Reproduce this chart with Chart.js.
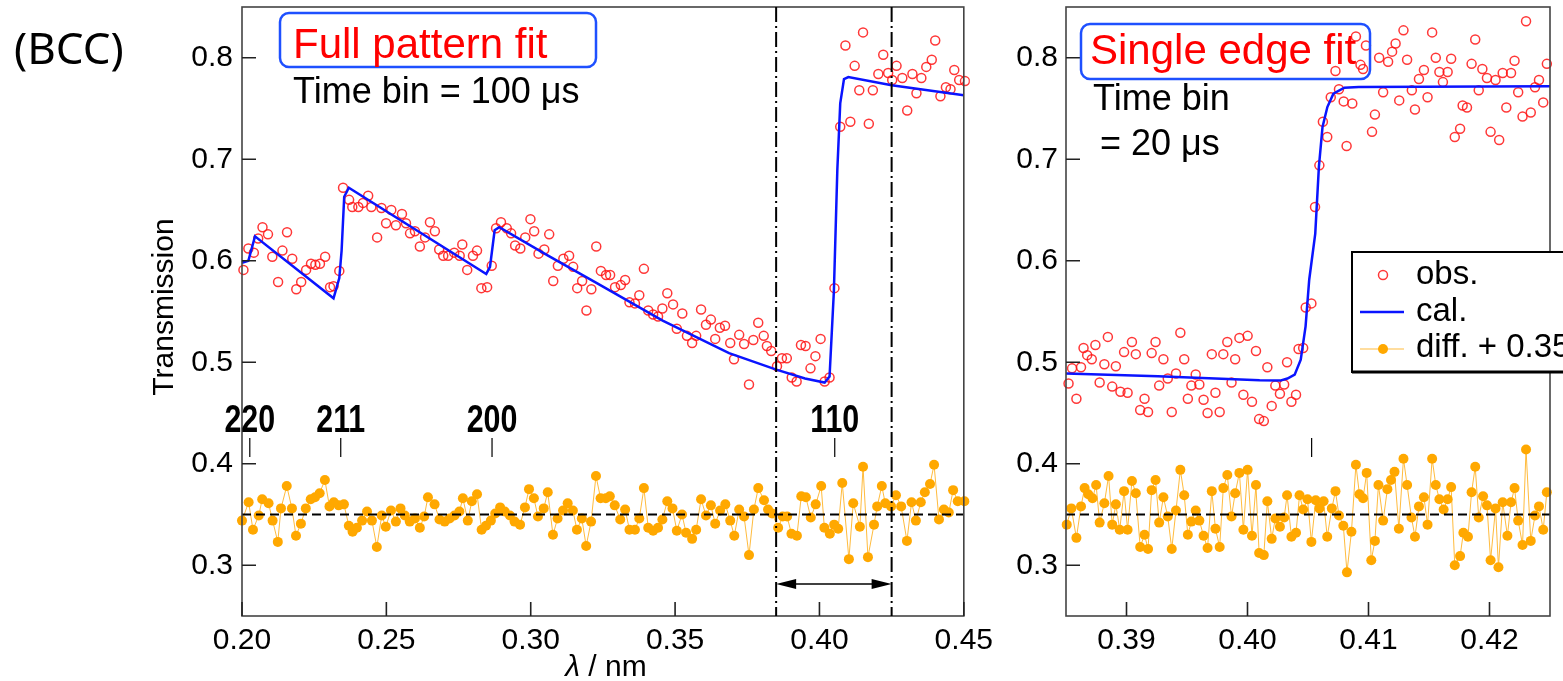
<!DOCTYPE html>
<html>
<head>
<meta charset="utf-8">
<title>BCC transmission spectrum fit</title>
<script src="https://cdn.jsdelivr.net/npm/chart.js@4.4.1/dist/chart.umd.min.js"></script>
<style>
  html, body { margin: 0; padding: 0; background: #fff; }
  #wrap { position: relative; width: 1563px; height: 681px; overflow: hidden; }
  canvas { position: absolute; top: 0; }
  #fullChart { left: 0; }
  #edgeChart { left: 1000px; }
</style>
</head>
<body>
<div id="wrap">
  <canvas id="fullChart" width="1000" height="681"></canvas>
  <canvas id="edgeChart" width="563" height="681"></canvas>
</div>
<script>
// ---- Full pattern fit, time bin 100 us ----
const fullObsLambda = [
  0.2005, 0.2022, 0.2041, 0.2056, 0.2071, 0.2090, 0.2105, 0.2125, 0.2140, 0.2156,
  0.2174, 0.2188, 0.2205, 0.2222, 0.2239, 0.2254, 0.2270, 0.2288, 0.2305, 0.2317,
  0.2337, 0.2350, 0.2371, 0.2382, 0.2403, 0.2419, 0.2437, 0.2448, 0.2468, 0.2483,
  0.2499, 0.2517, 0.2533, 0.2554, 0.2568, 0.2582, 0.2599, 0.2616, 0.2634, 0.2651,
  0.2668, 0.2683, 0.2697, 0.2714, 0.2735, 0.2754, 0.2763, 0.2780, 0.2800, 0.2814,
  0.2829, 0.2849, 0.2865, 0.2880, 0.2897, 0.2917, 0.2932, 0.2946, 0.2964, 0.2981,
  0.2999, 0.3012, 0.3027, 0.3047, 0.3064, 0.3078, 0.3094, 0.3113, 0.3133, 0.3147,
  0.3161, 0.3178, 0.3193, 0.3210, 0.3227, 0.3243, 0.3261, 0.3275, 0.3292, 0.3312,
  0.3327, 0.3342, 0.3361, 0.3376, 0.3392, 0.3407, 0.3424, 0.3441, 0.3456, 0.3473,
  0.3493, 0.3506, 0.3525, 0.3541, 0.3559, 0.3573, 0.3590, 0.3607, 0.3624, 0.3639,
  0.3655, 0.3673, 0.3691, 0.3704, 0.3722, 0.3739, 0.3756, 0.3771, 0.3788, 0.3807,
  0.3818, 0.3833, 0.3853, 0.3870, 0.3887, 0.3904, 0.3921, 0.3936, 0.3952, 0.3969,
  0.3986, 0.4004, 0.4018, 0.4035, 0.4052, 0.4072, 0.4090, 0.4107, 0.4122, 0.4138,
  0.4151, 0.4171, 0.4185, 0.4204, 0.4221, 0.4238, 0.4252, 0.4267, 0.4287, 0.4304,
  0.4322, 0.4336, 0.4353, 0.4370, 0.4389, 0.4401, 0.4419, 0.4438, 0.4454, 0.4467,
  0.4484, 0.4504
];
const fullObsT = [
  0.591, 0.612, 0.608, 0.622, 0.633, 0.626, 0.604, 0.579, 0.610, 0.628,
  0.602, 0.572, 0.579, 0.591, 0.597, 0.596, 0.597, 0.604, 0.574, 0.575,
  0.590, 0.672, 0.660, 0.653, 0.653, 0.657, 0.664, 0.653, 0.623, 0.652,
  0.637, 0.650, 0.635, 0.646, 0.637, 0.627, 0.629, 0.614, 0.623, 0.638,
  0.629, 0.611, 0.605, 0.605, 0.608, 0.605, 0.616, 0.591, 0.605, 0.610,
  0.573, 0.574, 0.595, 0.632, 0.638, 0.632, 0.627, 0.615, 0.612, 0.623,
  0.641, 0.629, 0.607, 0.611, 0.626, 0.580, 0.595, 0.602, 0.605, 0.594,
  0.573, 0.580, 0.551, 0.572, 0.614, 0.590, 0.586, 0.586, 0.574, 0.576,
  0.581, 0.559, 0.558, 0.566, 0.592, 0.551, 0.547, 0.545, 0.553, 0.568,
  0.557, 0.533, 0.548, 0.526, 0.519, 0.526, 0.552, 0.537, 0.542, 0.523,
  0.534, 0.536, 0.519, 0.503, 0.527, 0.518, 0.478, 0.522, 0.539, 0.526,
  0.516, 0.511, 0.496, 0.504, 0.504, 0.485, 0.481, 0.517, 0.516, 0.494,
  0.506, 0.523, 0.481, 0.485, 0.573, 0.732, 0.812, 0.737, 0.792, 0.768,
  0.825, 0.735, 0.768, 0.784, 0.803, 0.785, 0.778, 0.792, 0.780, 0.748,
  0.784, 0.765, 0.780, 0.791, 0.798, 0.817, 0.762, 0.771, 0.769, 0.788,
  0.778, 0.777
];
const fullCalLambda = [
  0.2000, 0.2022, 0.2045, 0.2317, 0.2337, 0.2345, 0.2354, 0.2370, 0.2846, 0.2859,
  0.2875, 0.2891, 0.3060, 0.3229, 0.3457, 0.3687, 0.3848, 0.3950, 0.4018, 0.4035,
  0.4050, 0.4062, 0.4072, 0.4085, 0.4100, 0.4250, 0.4500
];
const fullCalT = [
  0.598, 0.600, 0.624, 0.563, 0.583, 0.610, 0.663, 0.672, 0.587, 0.594,
  0.630, 0.633, 0.605, 0.578, 0.541, 0.509, 0.493, 0.484, 0.480, 0.486,
  0.570, 0.690, 0.755, 0.779, 0.781, 0.773, 0.763
];
const fullDiffLambda = [
  0.2000, 0.2023, 0.2038, 0.2058, 0.2070, 0.2092, 0.2106, 0.2124, 0.2135, 0.2155,
  0.2173, 0.2187, 0.2204, 0.2221, 0.2238, 0.2253, 0.2269, 0.2287, 0.2303, 0.2318,
  0.2335, 0.2353, 0.2370, 0.2383, 0.2398, 0.2416, 0.2433, 0.2450, 0.2467, 0.2484,
  0.2498, 0.2516, 0.2533, 0.2549, 0.2564, 0.2581, 0.2599, 0.2616, 0.2631, 0.2644,
  0.2667, 0.2684, 0.2702, 0.2719, 0.2736, 0.2753, 0.2765, 0.2782, 0.2796, 0.2814,
  0.2830, 0.2845, 0.2862, 0.2877, 0.2894, 0.2910, 0.2928, 0.2944, 0.2963, 0.2980,
  0.2994, 0.3011, 0.3025, 0.3045, 0.3059, 0.3077, 0.3093, 0.3112, 0.3128, 0.3146,
  0.3160, 0.3177, 0.3192, 0.3209, 0.3226, 0.3242, 0.3260, 0.3274, 0.3291, 0.3310,
  0.3327, 0.3342, 0.3361, 0.3376, 0.3392, 0.3407, 0.3424, 0.3441, 0.3456, 0.3473,
  0.3491, 0.3506, 0.3524, 0.3538, 0.3559, 0.3573, 0.3590, 0.3607, 0.3624, 0.3639,
  0.3656, 0.3674, 0.3691, 0.3705, 0.3722, 0.3739, 0.3756, 0.3773, 0.3788, 0.3808,
  0.3822, 0.3836, 0.3857, 0.3873, 0.3888, 0.3903, 0.3922, 0.3937, 0.3953, 0.3970,
  0.3987, 0.4006, 0.4017, 0.4036, 0.4051, 0.4065, 0.4079, 0.4102, 0.4117, 0.4140,
  0.4151, 0.4168, 0.4189, 0.4200, 0.4216, 0.4228, 0.4248, 0.4265, 0.4283, 0.4303,
  0.4319, 0.4334, 0.4351, 0.4365, 0.4383, 0.4397, 0.4414, 0.4431, 0.4448, 0.4463,
  0.4479, 0.4502
];
const fullDiffT = [
  0.344, 0.362, 0.335, 0.349, 0.365, 0.361, 0.344, 0.323, 0.356, 0.378,
  0.356, 0.329, 0.341, 0.356, 0.365, 0.367, 0.371, 0.384, 0.358, 0.362,
  0.359, 0.360, 0.339, 0.333, 0.337, 0.344, 0.353, 0.344, 0.318, 0.349,
  0.338, 0.354, 0.343, 0.356, 0.349, 0.343, 0.346, 0.337, 0.348, 0.367,
  0.360, 0.345, 0.343, 0.346, 0.349, 0.353, 0.366, 0.344, 0.363, 0.370,
  0.335, 0.339, 0.344, 0.351, 0.357, 0.353, 0.349, 0.343, 0.340, 0.357,
  0.375, 0.366, 0.348, 0.356, 0.372, 0.330, 0.346, 0.354, 0.361, 0.354,
  0.335, 0.346, 0.319, 0.343, 0.388, 0.366, 0.366, 0.368, 0.359, 0.345,
  0.355, 0.335, 0.335, 0.346, 0.376, 0.337, 0.334, 0.337, 0.345, 0.363,
  0.356, 0.334, 0.350, 0.332, 0.326, 0.335, 0.365, 0.349, 0.359, 0.341,
  0.354, 0.360, 0.344, 0.329, 0.355, 0.348, 0.310, 0.355, 0.376, 0.364,
  0.355, 0.351, 0.337, 0.348, 0.348, 0.331, 0.329, 0.368, 0.367, 0.347,
  0.360, 0.378, 0.337, 0.331, 0.340, 0.336, 0.381, 0.306, 0.361, 0.338,
  0.397, 0.308, 0.340, 0.358, 0.378, 0.361, 0.358, 0.369, 0.358, 0.324,
  0.362, 0.344, 0.362, 0.372, 0.380, 0.399, 0.345, 0.355, 0.352, 0.374,
  0.363, 0.363
];

// ---- Single 110 edge fit, time bin 20 us ----
const edgeObsLambda = [
  0.38521, 0.38550, 0.38586, 0.38624, 0.38645, 0.38675, 0.38713, 0.38743, 0.38778, 0.38817,
  0.38846, 0.38882, 0.38912, 0.38950, 0.38980, 0.39009, 0.39045, 0.39077, 0.39113, 0.39149,
  0.39178, 0.39208, 0.39240, 0.39270, 0.39305, 0.39341, 0.39374, 0.39409, 0.39445, 0.39477,
  0.39507, 0.39536, 0.39572, 0.39602, 0.39637, 0.39670, 0.39705, 0.39735, 0.39770, 0.39800,
  0.39833, 0.39868, 0.39898, 0.39933, 0.39966, 0.40001, 0.40037, 0.40070, 0.40096, 0.40135,
  0.40164, 0.40200, 0.40230, 0.40268, 0.40303, 0.40327, 0.40363, 0.40401, 0.40422, 0.40460,
  0.40481, 0.40528, 0.40558, 0.40594, 0.40623, 0.40659, 0.40688, 0.40727, 0.40756, 0.40795,
  0.40819, 0.40866, 0.40896, 0.40934, 0.40955, 0.40979, 0.41029, 0.41053, 0.41088, 0.41121,
  0.41162, 0.41195, 0.41224, 0.41254, 0.41289, 0.41319, 0.41358, 0.41384, 0.41417, 0.41458,
  0.41488, 0.41526, 0.41556, 0.41586, 0.41615, 0.41654, 0.41683, 0.41713, 0.41757, 0.41778,
  0.41814, 0.41852, 0.41882, 0.41911, 0.41941, 0.41979, 0.42009, 0.42050, 0.42080, 0.42109,
  0.42139, 0.42178, 0.42207, 0.42237, 0.42273, 0.42302, 0.42341, 0.42376, 0.42409, 0.42444,
  0.42474
];
const edgeObsT = [
  0.479, 0.494, 0.464, 0.495, 0.514, 0.507, 0.503, 0.517, 0.480, 0.498,
  0.525, 0.476, 0.496, 0.471, 0.510, 0.470, 0.520, 0.508, 0.453, 0.464,
  0.451, 0.509, 0.520, 0.477, 0.503, 0.484, 0.451, 0.489, 0.529, 0.503,
  0.464, 0.477, 0.488, 0.478, 0.463, 0.450, 0.508, 0.470, 0.451, 0.508,
  0.520, 0.480, 0.503, 0.524, 0.468, 0.526, 0.461, 0.511, 0.444, 0.442,
  0.495, 0.457, 0.477, 0.469, 0.478, 0.500, 0.461, 0.468, 0.513, 0.514,
  0.554, 0.558, 0.653, 0.694, 0.737, 0.722, 0.761, 0.787, 0.769, 0.757,
  0.713, 0.755, 0.821, 0.793, 0.789, 0.812, 0.727, 0.744, 0.800, 0.766,
  0.796, 0.806, 0.814, 0.758, 0.827, 0.798, 0.768, 0.749, 0.779, 0.788,
  0.761, 0.825, 0.800, 0.786, 0.776, 0.786, 0.799, 0.722, 0.730, 0.753,
  0.751, 0.794, 0.818, 0.768, 0.789, 0.780, 0.727, 0.778, 0.719, 0.785,
  0.751, 0.785, 0.797, 0.766, 0.742, 0.836, 0.746, 0.771, 0.778, 0.756,
  0.794
];
const edgeCalLambda = [
  0.3850, 0.3926, 0.4010, 0.4027, 0.4033, 0.4039, 0.4044, 0.4048, 0.4051, 0.4056,
  0.4059, 0.4062, 0.4066, 0.4071, 0.4080, 0.4092, 0.4250
];
const edgeCalT = [
  0.4888, 0.4862, 0.4822, 0.4819, 0.4840, 0.4878, 0.5026, 0.5354, 0.5813, 0.6268,
  0.6924, 0.7318, 0.7514, 0.7646, 0.7705, 0.7711, 0.7718
];
const edgeDiffLambda = [
  0.38506, 0.38544, 0.38586, 0.38624, 0.38654, 0.38684, 0.38719, 0.38749, 0.38778, 0.38817,
  0.38852, 0.38882, 0.38912, 0.38944, 0.38980, 0.39009, 0.39045, 0.39077, 0.39113, 0.39149,
  0.39178, 0.39208, 0.39240, 0.39270, 0.39305, 0.39341, 0.39374, 0.39409, 0.39445, 0.39477,
  0.39507, 0.39536, 0.39572, 0.39602, 0.39637, 0.39670, 0.39705, 0.39735, 0.39770, 0.39800,
  0.39833, 0.39868, 0.39898, 0.39933, 0.39966, 0.40001, 0.40037, 0.40070, 0.40096, 0.40135,
  0.40164, 0.40200, 0.40230, 0.40268, 0.40303, 0.40327, 0.40363, 0.40401, 0.40430, 0.40460,
  0.40496, 0.40528, 0.40564, 0.40594, 0.40629, 0.40659, 0.40697, 0.40727, 0.40756, 0.40792,
  0.40822, 0.40859, 0.40896, 0.40925, 0.40955, 0.40985, 0.41023, 0.41053, 0.41082, 0.41121,
  0.41156, 0.41186, 0.41215, 0.41251, 0.41289, 0.41319, 0.41355, 0.41384, 0.41417, 0.41458,
  0.41488, 0.41526, 0.41556, 0.41586, 0.41621, 0.41654, 0.41683, 0.41713, 0.41757, 0.41784,
  0.41822, 0.41852, 0.41882, 0.41911, 0.41947, 0.41979, 0.42009, 0.42050, 0.42074, 0.42109,
  0.42148, 0.42178, 0.42207, 0.42237, 0.42273, 0.42302, 0.42341, 0.42376, 0.42409, 0.42444,
  0.42474
];
const edgeDiffT = [
  0.340, 0.356, 0.327, 0.358, 0.376, 0.370, 0.366, 0.379, 0.342, 0.361,
  0.388, 0.340, 0.360, 0.335, 0.373, 0.335, 0.383, 0.371, 0.318, 0.330,
  0.316, 0.374, 0.384, 0.342, 0.367, 0.348, 0.316, 0.354, 0.394, 0.369,
  0.330, 0.343, 0.354, 0.344, 0.329, 0.317, 0.373, 0.336, 0.318, 0.376,
  0.389, 0.348, 0.371, 0.391, 0.335, 0.394, 0.329, 0.379, 0.312, 0.310,
  0.363, 0.326, 0.346, 0.338, 0.347, 0.369, 0.328, 0.332, 0.369, 0.355,
  0.365, 0.323, 0.364, 0.356, 0.363, 0.328, 0.356, 0.373, 0.349, 0.339,
  0.293, 0.333, 0.399, 0.370, 0.366, 0.391, 0.305, 0.324, 0.379, 0.344,
  0.375, 0.384, 0.392, 0.336, 0.405, 0.379, 0.347, 0.328, 0.358, 0.367,
  0.340, 0.405, 0.379, 0.365, 0.355, 0.365, 0.377, 0.300, 0.309, 0.332,
  0.328, 0.372, 0.397, 0.347, 0.368, 0.359, 0.305, 0.356, 0.298, 0.362,
  0.329, 0.362, 0.376, 0.344, 0.320, 0.414, 0.324, 0.349, 0.358, 0.335,
  0.372
];

// axes and annotations
const fullXTicks = [0.20, 0.25, 0.30, 0.35, 0.40, 0.45];
const edgeXTicks = [0.39, 0.40, 0.41, 0.42];
const yTicks = [0.3, 0.4, 0.5, 0.6, 0.7, 0.8];
const hklLabels = ['220', '211', '200', '110'];
const hklLambda = [0.2027, 0.2342, 0.2866, 0.4053];
const diffOffset = 0.35;
const edgeWindow = [0.385, 0.425];

const SANS = '"Liberation Sans", Arial, Helvetica, sans-serif';
const CAL_BLUE = '#0a14ff';
const OBS_RED = 'rgba(255, 20, 20, 0.85)';
const DIFF_ORANGE = '#ffa800';

Chart.defaults.font.family = SANS;
Chart.defaults.color = '#000';

const pts = (xs, ys) => xs.map((x, i) => ({ x, y: ys[i] }));

function makeDatasets(calX, calY, obsX, obsY, diffX, diffY) {
  return [
    {
      label: 'cal.', data: pts(calX, calY), showLine: true,
      borderColor: CAL_BLUE, borderWidth: 2.5, pointRadius: 0, tension: 0, clip: 6
    },
    {
      label: 'obs.', data: pts(obsX, obsY), showLine: false,
      pointRadius: 4.5, pointBorderWidth: 1.5, pointBorderColor: OBS_RED,
      pointBackgroundColor: 'rgba(0,0,0,0)', clip: 6
    },
    {
      label: 'diff. + 0.35', data: pts(diffX, diffY), showLine: true,
      borderColor: 'rgba(255, 180, 40, 0.9)', borderWidth: 1,
      pointRadius: 5, pointBorderWidth: 0, pointBackgroundColor: DIFF_ORANGE, clip: 6
    }
  ];
}

function makeScales(xMin, xMax, xTicks, yWidth, yPad) {
  return {
    x: {
      type: 'linear', min: xMin, max: xMax,
      grid: { display: false, drawTicks: false },
      border: { display: false },
      ticks: {
        font: { size: 30 }, color: '#000', padding: 7, maxRotation: 0, autoSkip: false,
        callback: v => v.toFixed(2)
      },
      afterBuildTicks: s => { s.ticks = xTicks.map(v => ({ value: v })); },
      afterFit: s => { s.height = 65; }
    },
    y: {
      type: 'linear', min: 0.25, max: 0.85,
      grid: { display: false, drawTicks: false },
      border: { display: false },
      ticks: { font: { size: 30 }, color: '#000', padding: yPad, callback: v => v.toFixed(1) },
      afterBuildTicks: s => { s.ticks = yTicks.map(v => ({ value: v })); },
      // the end labels sit well inside the plot, so no extra room above/below
      afterFit: s => { s.width = yWidth; s.paddingTop = 0; s.paddingBottom = 0; }
    }
  };
}

function roundRect(ctx, x, y, w, h, r) {
  ctx.beginPath();
  ctx.moveTo(x + r, y);
  ctx.arcTo(x + w, y, x + w, y + h, r);
  ctx.arcTo(x + w, y + h, x, y + h, r);
  ctx.arcTo(x, y + h, x, y, r);
  ctx.arcTo(x, y, x + w, y, r);
  ctx.closePath();
}

// frame, inward ticks, diff baseline and hkl edge markers
const axesDecor = {
  id: 'axesDecor',
  afterDatasetsDraw(chart, args, opts) {
    const { ctx, chartArea: a, scales: { x, y } } = chart;
    ctx.save();

    const yb = y.getPixelForValue(diffOffset);
    ctx.strokeStyle = '#000';
    ctx.lineWidth = 2;
    ctx.setLineDash([9, 5]);
    ctx.beginPath();
    ctx.moveTo(a.left, yb);
    ctx.lineTo(a.right, yb);
    ctx.stroke();
    ctx.setLineDash([]);

    ctx.strokeStyle = '#444';
    ctx.lineWidth = 1.6;
    ctx.strokeRect(a.left, a.top, a.right - a.left, a.bottom - a.top);

    ctx.strokeStyle = '#222';
    ctx.lineWidth = 1.6;
    ctx.beginPath();
    x.ticks.forEach(t => {
      const px = x.getPixelForValue(t.value);
      ctx.moveTo(px, a.bottom);
      ctx.lineTo(px, a.bottom - 14);
    });
    y.ticks.forEach(t => {
      const py = y.getPixelForValue(t.value);
      ctx.moveTo(a.left, py);
      ctx.lineTo(a.left + 14, py);
    });
    ctx.stroke();

    // Bragg edge positions
    ctx.strokeStyle = '#000';
    ctx.lineWidth = 1.2;
    ctx.beginPath();
    opts.edges.forEach(i => {
      const px = x.getPixelForValue(hklLambda[i]);
      ctx.moveTo(px, y.getPixelForValue(0.4253));
      ctx.lineTo(px, y.getPixelForValue(0.4066));
    });
    ctx.stroke();
    if (opts.labels) {
      ctx.fillStyle = '#000';
      ctx.font = 'bold 38px ' + SANS;
      ctx.textAlign = 'center';
      ctx.textBaseline = 'alphabetic';
      opts.edges.forEach(i => {
        ctx.save();
        ctx.translate(x.getPixelForValue(hklLambda[i]), y.getPixelForValue(0.4312));
        ctx.scale(0.8, 1);
        ctx.fillText(hklLabels[i], 0, 0);
        ctx.restore();
      });
    }
    ctx.restore();
  }
};

// range used for the single edge fit, with a double arrow
const edgeRange = {
  id: 'edgeRange',
  afterDatasetsDraw(chart) {
    const { ctx, chartArea: a, scales: { x, y } } = chart;
    const x0 = x.getPixelForValue(edgeWindow[0]);
    const x1 = x.getPixelForValue(edgeWindow[1]);
    ctx.save();
    ctx.strokeStyle = '#000';
    ctx.lineWidth = 2;
    ctx.setLineDash([15, 4, 2, 4]);
    ctx.beginPath();
    ctx.moveTo(x0, a.top); ctx.lineTo(x0, a.bottom);
    ctx.moveTo(x1, a.top); ctx.lineTo(x1, a.bottom);
    ctx.stroke();
    ctx.setLineDash([]);

    const ya = y.getPixelForValue(0.2816);
    ctx.lineWidth = 1.5;
    ctx.beginPath();
    ctx.moveTo(x0 + 10, ya); ctx.lineTo(x1 - 10, ya);
    ctx.stroke();
    ctx.fillStyle = '#000';
    ctx.beginPath();
    ctx.moveTo(x0, ya); ctx.lineTo(x0 + 20, ya - 5); ctx.lineTo(x0 + 20, ya + 5); ctx.closePath();
    ctx.moveTo(x1, ya); ctx.lineTo(x1 - 20, ya - 5); ctx.lineTo(x1 - 20, ya + 5); ctx.closePath();
    ctx.fill();
    ctx.restore();
  }
};

const fullText = {
  id: 'fullText',
  afterDraw(chart) {
    const { ctx, chartArea: a } = chart;
    ctx.save();
    ctx.textBaseline = 'alphabetic';
    ctx.textAlign = 'left';

    ctx.fillStyle = '#000';
    ctx.font = '44px "Noto Sans", ' + SANS;
    ctx.fillText('(BCC)', 14, 64);

    ctx.strokeStyle = '#1e50ff';
    ctx.lineWidth = 2.5;
    roundRect(ctx, 280, 13, 316, 54, 9);
    ctx.stroke();
    ctx.fillStyle = '#ff0000';
    ctx.font = '42px ' + SANS;
    ctx.fillText('Full pattern fit', 293, 58);

    ctx.fillStyle = '#000';
    ctx.font = '36px ' + SANS;
    ctx.fillText('Time bin = 100 \u03bcs', 293, 103);

    // axis titles
    ctx.font = '30px ' + SANS;
    ctx.save();
    ctx.translate(173, 307);
    ctx.rotate(-Math.PI / 2);
    ctx.textAlign = 'center';
    ctx.fillText('Transmission', 0, 0);
    ctx.restore();

    const rest = ' / nm';
    ctx.font = 'italic 30px ' + SANS;
    const wl = ctx.measureText('\u03bb').width;
    ctx.font = '30px ' + SANS;
    const wr = ctx.measureText(rest).width;
    const start = (a.left + a.right) / 2 + 3 - (wl + wr) / 2;
    ctx.font = 'italic 30px ' + SANS;
    ctx.fillText('\u03bb', start, 676);
    ctx.font = '30px ' + SANS;
    ctx.fillText(rest, start + wl, 676);
    ctx.restore();
  }
};

const edgeText = {
  id: 'edgeText',
  afterDraw(chart) {
    const { ctx } = chart;
    ctx.save();
    ctx.textBaseline = 'alphabetic';
    ctx.textAlign = 'left';

    ctx.strokeStyle = '#1e50ff';
    ctx.lineWidth = 2.5;
    roundRect(ctx, 81, 24, 289, 55, 9);
    ctx.stroke();
    ctx.fillStyle = '#ff0000';
    ctx.font = '42px ' + SANS;
    ctx.fillText('Single edge fit', 90, 64);

    ctx.fillStyle = '#000';
    ctx.font = '36px ' + SANS;
    ctx.fillText('Time bin', 93, 110);
    ctx.fillText('= 20 \u03bcs', 100, 155);

    // legend
    ctx.fillStyle = '#fff';
    ctx.fillRect(352, 252, 240, 120);
    ctx.strokeStyle = '#000';
    ctx.lineWidth = 2;
    ctx.strokeRect(352, 252, 240, 120);
    ctx.lineWidth = 3;
    ctx.beginPath();
    ctx.moveTo(352, 372); ctx.lineTo(592, 372);
    ctx.stroke();

    ctx.strokeStyle = OBS_RED;
    ctx.lineWidth = 1.5;
    ctx.beginPath();
    ctx.arc(383, 275, 4.5, 0, Math.PI * 2);
    ctx.stroke();

    ctx.strokeStyle = CAL_BLUE;
    ctx.lineWidth = 2.5;
    ctx.beginPath();
    ctx.moveTo(360, 312); ctx.lineTo(404, 312);
    ctx.stroke();

    ctx.strokeStyle = 'rgba(255, 180, 40, 0.9)';
    ctx.lineWidth = 1;
    ctx.beginPath();
    ctx.moveTo(360, 349); ctx.lineTo(404, 349);
    ctx.stroke();
    ctx.fillStyle = DIFF_ORANGE;
    ctx.beginPath();
    ctx.arc(383, 349, 5, 0, Math.PI * 2);
    ctx.fill();

    ctx.fillStyle = '#000';
    ctx.font = '33px ' + SANS;
    ctx.fillText('obs.', 416, 284);
    ctx.fillText('cal.', 416, 321);
    ctx.fillText('diff. + 0.35', 416, 357);
    ctx.restore();
  }
};

const commonOptions = {
  responsive: false,
  animation: false,
  devicePixelRatio: 1,
  events: [],
  plugins: { legend: { display: false }, tooltip: { enabled: false } }
};

new Chart(document.getElementById('fullChart'), {
  type: 'scatter',
  data: {
    datasets: makeDatasets(fullCalLambda, fullCalT, fullObsLambda, fullObsT, fullDiffLambda, fullDiffT)
  },
  options: {
    ...commonOptions,
    layout: { padding: { top: 7, right: 30, bottom: 0, left: 0 } },
    scales: makeScales(0.20, 0.45, fullXTicks, 242, 9),
    plugins: { ...commonOptions.plugins, axesDecor: { edges: [0, 1, 2, 3], labels: true } }
  },
  plugins: [axesDecor, edgeRange, fullText]
});

new Chart(document.getElementById('edgeChart'), {
  type: 'scatter',
  data: {
    datasets: makeDatasets(edgeCalLambda, edgeCalT, edgeObsLambda, edgeObsT, edgeDiffLambda, edgeDiffT)
  },
  options: {
    ...commonOptions,
    layout: { padding: { top: 7, right: 13, bottom: 0, left: 0 } },
    scales: makeScales(edgeWindow[0], edgeWindow[1], edgeXTicks, 66, 8),
    plugins: { ...commonOptions.plugins, axesDecor: { edges: [3], labels: false } }
  },
  plugins: [axesDecor, edgeText]
});
</script>
</body>
</html>
